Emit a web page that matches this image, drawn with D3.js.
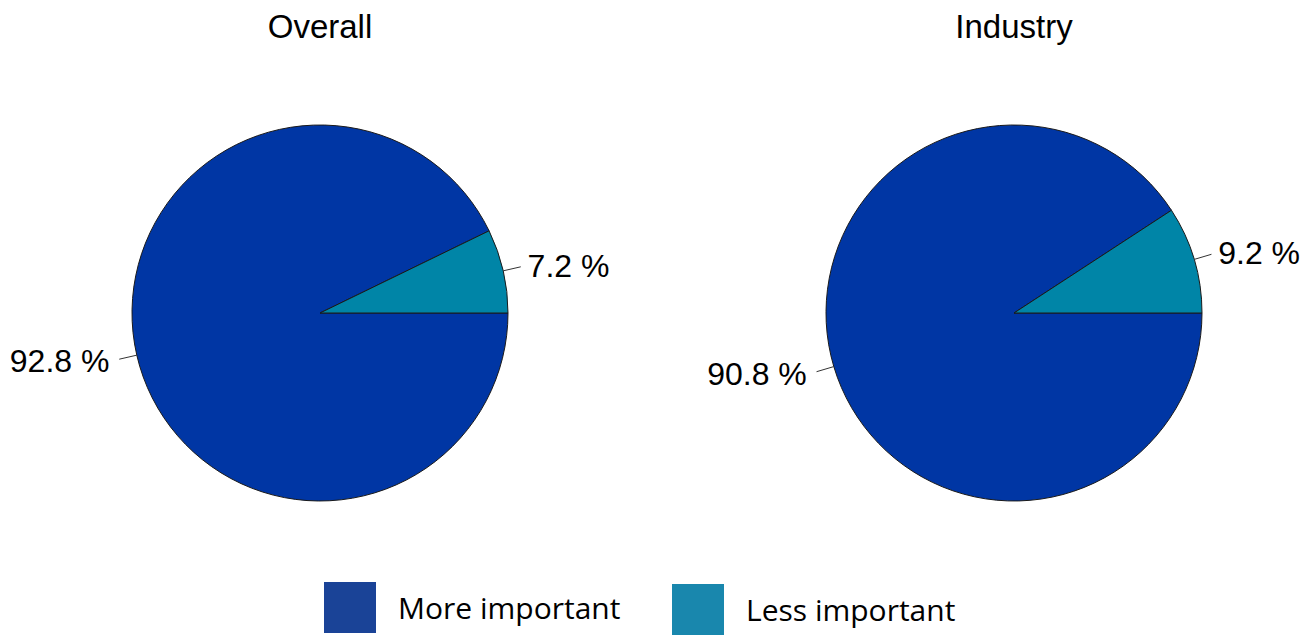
<!DOCTYPE html>
<html><head><meta charset="utf-8">
<script src="https://cdn.jsdelivr.net/npm/d3@7"></script>
<style>body{margin:0;background:#fff}svg{display:block}</style>
</head><body>
<svg id="chart" width="1313" height="636"></svg>
<script>
const categories = ["More important", "Less important"];
const chartTitles = ["Overall", "Industry"];
const overallValues = [92.8, 7.2];
const industryValues = [90.8, 9.2];
const pieColors = ["#0036A4", "#0085A7"];
const legendColors = ["#1A4397", "#1987AD"];

const svg = d3.select("#chart");
const radius = 188;
const centers = [320, 1014];
const cy = 313;

const pie = d3.pie().sort(null).value(d => d.v)
  .startAngle(Math.PI / 2).endAngle(Math.PI / 2 + 2 * Math.PI);
const arc = d3.arc().innerRadius(0).outerRadius(radius);
const lineIn = d3.arc().innerRadius(radius).outerRadius(radius);
const lineOut = d3.arc().innerRadius(radius + 18).outerRadius(radius + 18);
const textArc = d3.arc().innerRadius(radius + 24).outerRadius(radius + 24);

[overallValues, industryValues].forEach((vals, i) => {
  const data = categories.map((c, j) => ({c, v: vals[j], j}));
  const g = svg.append("g").attr("transform", `translate(${centers[i]},${cy})`);
  svg.append("text").attr("x", centers[i]).attr("y", 38)
    .attr("text-anchor", "middle")
    .attr("font-family", "Liberation Sans, Arial, sans-serif")
    .attr("font-size", 33).attr("fill", "#000").text(chartTitles[i]);
  const arcs = pie(data);
  g.selectAll("path.slice").data(arcs).enter().append("path")
    .attr("class", "slice").attr("d", arc)
    .attr("fill", d => pieColors[d.data.j])
    .attr("stroke", "#1a1a1a").attr("stroke-width", 1);
  arcs.forEach(d => {
    const p1 = lineIn.centroid(d), p2 = lineOut.centroid(d), p3 = textArc.centroid(d);
    g.append("line").attr("x1", p1[0]).attr("y1", p1[1]).attr("x2", p2[0]).attr("y2", p2[1])
      .attr("stroke", "#333").attr("stroke-width", 1);
    const mid = (d.startAngle + d.endAngle) / 2;
    const right = Math.sin(mid) > 0;
    g.append("text").attr("x", p3[0] + (right ? 1 : -4)).attr("y", p3[1])
      .attr("dy", "0.35em")
      .attr("text-anchor", right ? "start" : "end")
      .attr("font-family", "Liberation Sans, Arial, sans-serif")
      .attr("font-size", 32).attr("fill", "#000")
      .text(d3.format(".1f")(d.data.v) + " %");
  });
});

// legend
const legendX = [324, 672];
const legendY = [582, 584];
const lg = svg.append("g");
categories.forEach((c, j) => {
  lg.append("rect").attr("x", legendX[j]).attr("y", legendY[j])
    .attr("width", 52).attr("height", 51).attr("fill", legendColors[j]);
  lg.append("text").attr("x", legendX[j] + 74).attr("y", legendY[j] + 37)
    .attr("font-family", "Open Sans, sans-serif").attr("font-size", 30)
    .attr("fill", "#000").text(c);
});
</script>
</body></html>
